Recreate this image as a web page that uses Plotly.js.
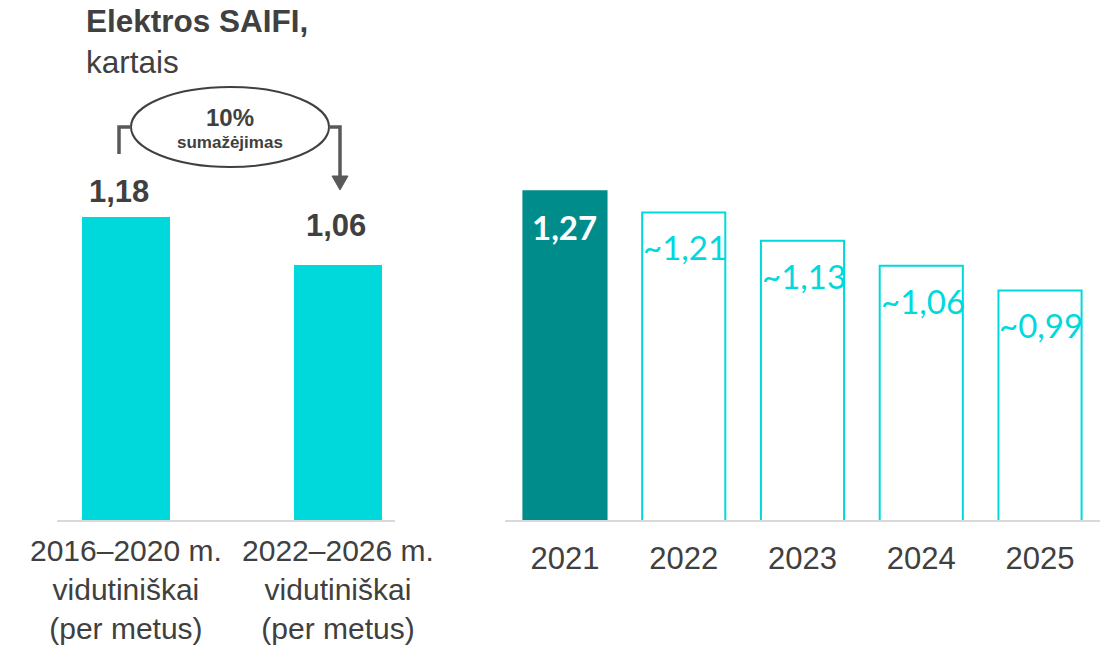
<!DOCTYPE html>
<html>
<head>
<meta charset="utf-8">
<script src="https://cdn.plot.ly/plotly-3.0.1.min.js"></script>
<style>html,body{margin:0;padding:0;background:#fff;}#chart{width:1105px;height:649px;}</style>
</head>
<body>
<div id="chart"></div>
<script>
// ---- data ----
const periodLabels = ["2016–2020 m.<br>vidutiniškai<br>(per metus)", "2022–2026 m.<br>vidutiniškai<br>(per metus)"];
const periodValues = [1.18, 1.06];
const periodText = ["1,18", "1,06"];

const years = ["2021", "2022", "2023", "2024", "2025"];
const yearValues = [1.27, 1.21, 1.13, 1.06, 0.99];
const yearText = ["1,27", "~1,21", "~1,13", "~1,06", "~0,99"];
const yearIsActual = [true, false, false, false, false];

const titleBold = "Elektros SAIFI,";
const titleUnit = "kartais";
const changePct = "10%";
const changeWord = "sumažėjimas";

// ---- style ----
const W = 1105, H = 649;
const CYAN = "#00D9DC", TEAL = "#008C8A", GRAY = "#404040", LINE = "#595959";
const px = x => x / W, py = y => 1 - y / H;
const FONT = "Liberation Sans, Arial, sans-serif";
const FONT2 = "Lato, Open Sans, sans-serif";

const leftBar = {
  type: "bar", x: periodLabels, y: periodValues, xaxis: "x", yaxis: "y",
  width: 0.415, marker: {color: CYAN, line: {width: 0}}, hoverinfo: "skip"
};
const rightBar = {
  type: "bar", x: years, y: yearValues, xaxis: "x2", yaxis: "y2",
  width: 0.70,
  marker: {
    color: yearIsActual.map(a => a ? TEAL : "#FFFFFF"),
    line: {color: yearIsActual.map(a => a ? TEAL : CYAN), width: 2}
  },
  hoverinfo: "skip"
};

const annotations = [];
annotations.push({
  xref: "paper", yref: "paper", x: px(84), y: py(1), xanchor: "left", yanchor: "top",
  text: "<b>" + titleBold + "</b><br>" + titleUnit, align: "left", showarrow: false,
  font: {family: FONT, size: 31.5, color: GRAY}
});
const leftShift = [25, 40];
periodValues.forEach((v, i) => annotations.push({
  xref: "x", yref: "y", x: i, y: v, xanchor: "center", yanchor: "middle", yshift: leftShift[i],
  xshift: i === 0 ? -7 : -2,
  text: "<b>" + periodText[i] + "</b>", showarrow: false,
  font: {family: FONT, size: 31, color: GRAY}
}));
yearValues.forEach((v, i) => annotations.push(yearIsActual[i] ? {
  xref: "x2", yref: "y2", x: i, y: v, xanchor: "center", yanchor: "middle", yshift: -36,
  text: "<b>" + yearText[i] + "</b>", showarrow: false,
  font: {family: FONT2, size: 33, color: "#FFFFFF"}
} : {
  xref: "x2", yref: "y2", x: i - 0.36, y: v, xanchor: "left", yanchor: "middle", yshift: -35,
  text: yearText[i], showarrow: false,
  font: {family: FONT2, size: 33, color: CYAN}
}));
annotations.push({
  xref: "paper", yref: "paper", x: px(230), y: py(117), xanchor: "center", yanchor: "middle",
  text: "<b>" + changePct + "</b>", showarrow: false, font: {family: FONT, size: 24, color: GRAY}
});
annotations.push({
  xref: "paper", yref: "paper", x: px(230), y: py(143), xanchor: "center", yanchor: "middle",
  text: "<b>" + changeWord + "</b>", showarrow: false, font: {family: FONT, size: 17, color: GRAY}
});

const path = pts => pts.map((p, k) => (k ? "L" : "M") + px(p[0]) + "," + py(p[1])).join(" ");
const shapes = [
  {type: "circle", xref: "paper", yref: "paper", x0: px(131), x1: px(329), y0: py(87), y1: py(167),
   line: {color: GRAY, width: 2}, fillcolor: "rgba(0,0,0,0)"},
  {type: "path", xref: "paper", yref: "paper", path: path([[119, 154], [119, 127], [131, 127]]),
   line: {color: LINE, width: 3.5}},
  {type: "path", xref: "paper", yref: "paper", path: path([[329, 127], [340, 127], [340, 177]]),
   line: {color: LINE, width: 3.5}},
  {type: "path", xref: "paper", yref: "paper", path: path([[332, 176], [348, 176], [340, 190]]) + " Z",
   line: {color: LINE, width: 1}, fillcolor: LINE}
];

const yDom = [py(520), py(100)];
const layout = {
  width: W, height: H, margin: {l: 0, r: 0, t: 0, b: 0},
  paper_bgcolor: "#fff", plot_bgcolor: "rgba(0,0,0,0)", showlegend: false,
  xaxis: {domain: [px(57), px(395)], range: [-0.325, 1.269], type: "category",
    showline: true, linecolor: "#D9D9D9", linewidth: 2, ticks: "", showgrid: false,
    tickfont: {family: FONT, size: 30, color: GRAY}, ticklabelstandoff: 3, fixedrange: true},
  yaxis: {domain: yDom, range: [0.4225, 1.4725], visible: false, fixedrange: true},
  xaxis2: {domain: [px(505), px(1100)], range: [-0.505, 4.505], type: "category",
    showline: true, linecolor: "#D9D9D9", linewidth: 2, ticks: "", showgrid: false,
    tickfont: {family: FONT, size: 31, color: GRAY}, ticklabelstandoff: 10, fixedrange: true},
  yaxis2: {domain: yDom, range: [0.343, 1.527], visible: false, fixedrange: true},
  annotations: annotations, shapes: shapes, bargap: 0
};
Plotly.newPlot("chart", [leftBar, rightBar], layout, {displayModeBar: false, staticPlot: true});
</script>
</body>
</html>
